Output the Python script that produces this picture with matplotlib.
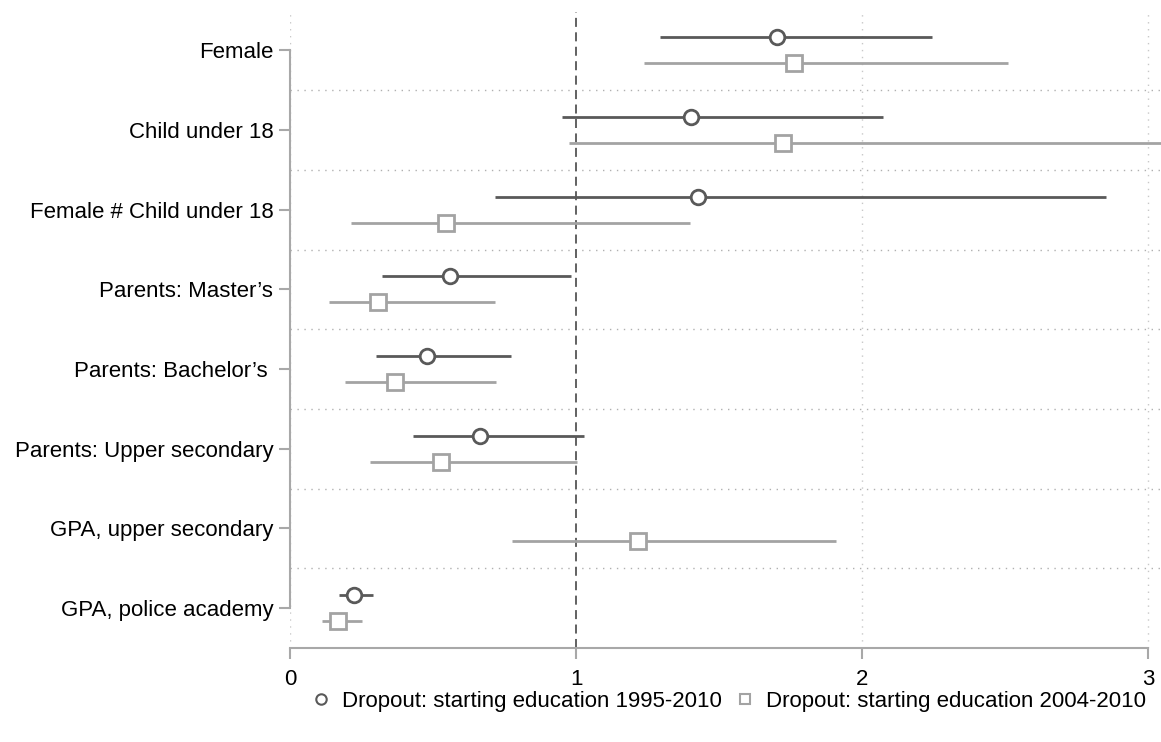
import matplotlib
matplotlib.use("Agg")
import matplotlib.pyplot as plt
from matplotlib.lines import Line2D
import numpy as np

plt.rcParams['font.family'] = ['Liberation Sans', 'DejaVu Sans']

categories = ['Female', 'Child under 18', 'Female # Child under 18', "Parents: Master\u2019s",
              "Parents: Bachelor\u2019s ", 'Parents: Upper secondary', 'GPA, upper secondary',
              'GPA, police academy']

# Dropout: starting education 1995-2010 (None = not estimated)
est_a = [1.703, 1.402, 1.427, 0.559, 0.480, 0.664, None, 0.223]
lo_a = [1.294, 0.950, 0.717, 0.320, 0.301, 0.431, None, 0.171]
hi_a = [2.245, 2.072, 2.853, 0.981, 0.773, 1.027, None, 0.289]

# Dropout: starting education 2004-2010
est_b = [1.762, 1.724, 0.544, 0.307, 0.368, 0.528, 1.216, 0.167]
lo_b = [1.238, 0.975, 0.213, 0.136, 0.191, 0.280, 0.775, 0.113]
hi_b = [2.510, 3.200, 1.399, 0.717, 0.720, 1.002, 1.909, 0.251]

labels = ['Dropout: starting education 1995-2010', 'Dropout: starting education 2004-2010']
dark = '#595959'
light = '#a3a3a3'
axis_col = '#a8a8a8'

fig = plt.figure(figsize=(11.61, 7.42), dpi=100)
ax = fig.add_axes([0.2498, 0.1267, 0.7502, 0.8571])

pos = np.arange(1, len(categories) + 1)
off = 0.163

def draw(est, lo, hi, shift, color, marker):
    for p, e, l, h in zip(pos, est, lo, hi):
        if e is None:
            continue
        y = p + shift
        ax.plot([l, h], [y, y], color=color, lw=2, zorder=3, solid_capstyle='butt')
        ax.plot(e, y, marker=marker, ms=10.5 if marker == 'o' else 11, mfc='white',
                mec=color, mew=2, zorder=4, linestyle='none')

draw(est_a, lo_a, hi_a, -off, dark, 'o')
draw(est_b, lo_b, hi_b, off, light, 's')

ax.axvline(1, color='#555555', lw=1.3, ls=(0, (5, 3)), zorder=2)

ax.set_xlim(0, 3.045)
ax.set_ylim(len(categories) + 0.5, 0.52)

ax.set_yticks(pos)
ax.set_yticklabels(categories)
ax.set_xticks([0, 1, 2, 3])
ax.set_xticklabels(['0', '1', '2', '3'])
ax.tick_params(axis='both', labelsize=16, colors=axis_col, labelcolor='black', length=8, width=1.5)
ax.tick_params(axis='y', pad=4)
ax.tick_params(axis='x', pad=7)

# grid: vertical at x ticks, horizontal between categories
for xv in [0, 2, 3]:
    ax.axvline(xv, color='#c8c8c8', lw=1, ls=(0, (1, 4)), zorder=1)
for yv in np.arange(1.5, len(categories), 1.0):
    ax.axhline(yv, color='#b0b0b0', lw=1, ls=(0, (1, 4)), zorder=1)

for s in ['top', 'right']:
    ax.spines[s].set_visible(False)
ax.spines['left'].set_bounds(1, len(categories))
ax.spines['bottom'].set_bounds(0, 3)
for s in ['left', 'bottom']:
    ax.spines[s].set_color(axis_col)
    ax.spines[s].set_linewidth(1.5)

handles = [Line2D([], [], marker='o', ls='none', mfc='white', mec=dark, mew=1.5, ms=7.5),
           Line2D([], [], marker='s', ls='none', mfc='white', mec=light, mew=1.5, ms=7.5)]
fig.legend(handles, labels, loc='center', bbox_to_anchor=(0.627, 0.055), ncol=2, frameon=False,
           fontsize=16, handletextpad=0.45, columnspacing=0.5, handlelength=1.0)

fig.savefig('out.png', dpi=100)
